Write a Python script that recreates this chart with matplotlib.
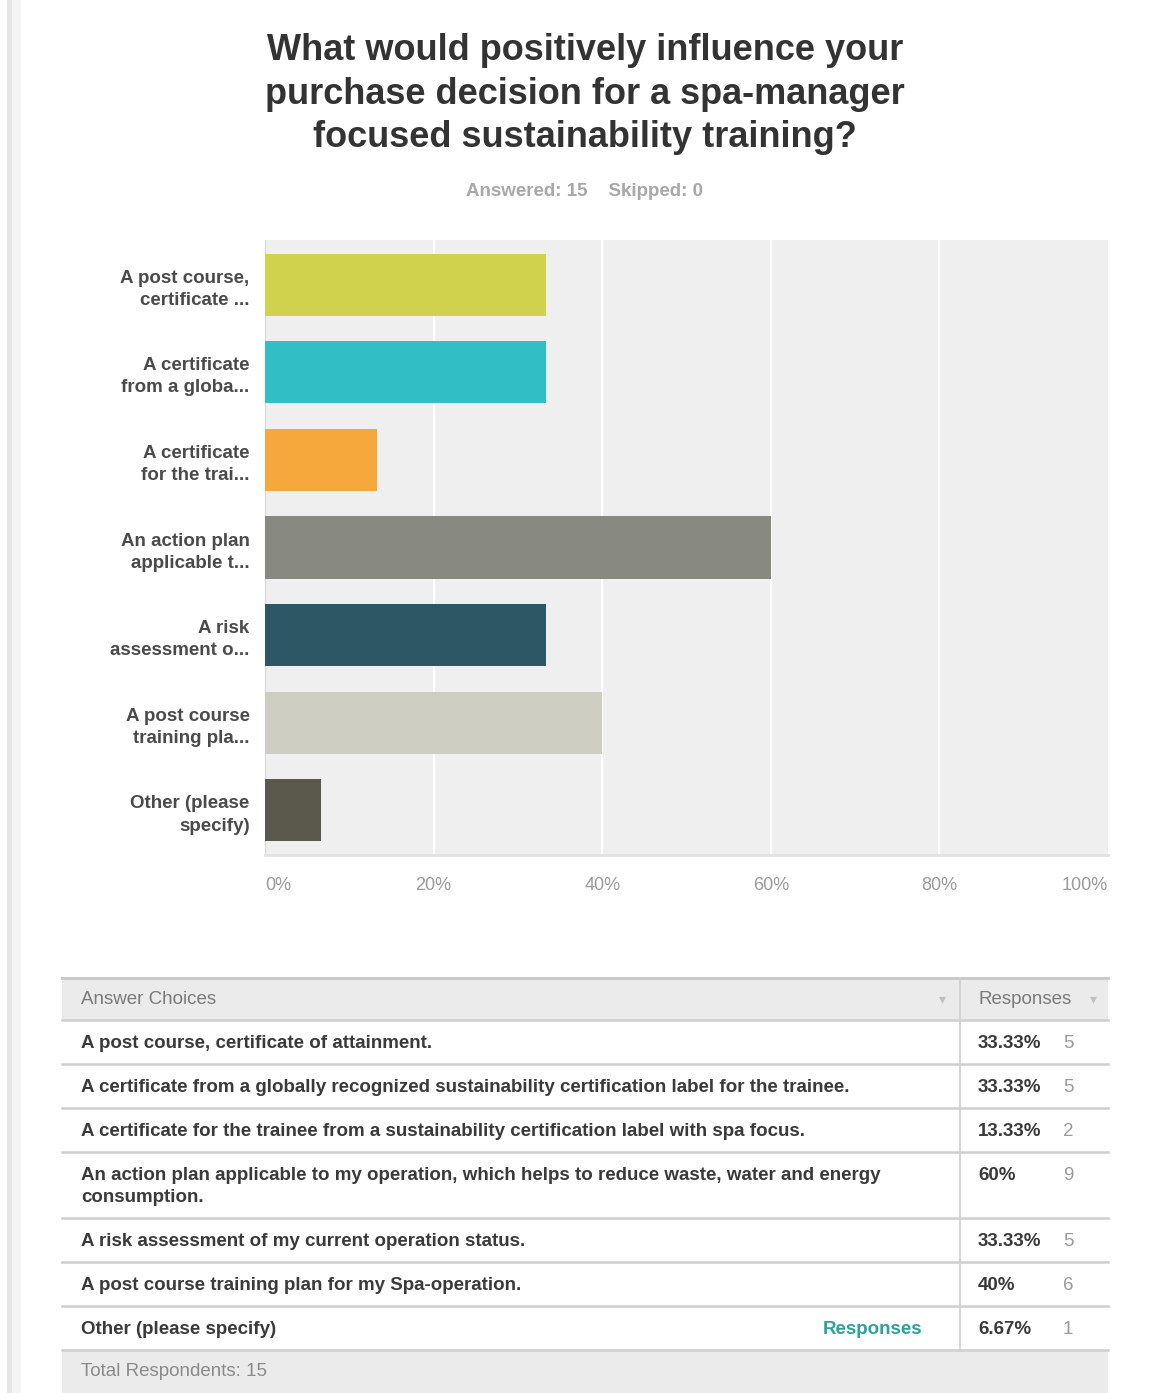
import matplotlib
matplotlib.use('Agg')
import matplotlib.pyplot as plt
from matplotlib.patches import Rectangle

W, H = 1157, 1393

# survey results
short_labels = ['A post course,\ncertificate ...', 'A certificate\nfrom a globa...',
                'A certificate\nfor the trai...', 'An action plan\napplicable t...',
                'A risk\nassessment o...', 'A post course\ntraining pla...',
                'Other (please\nspecify)']
full_labels = ['A post course, certificate of attainment.',
               'A certificate from a globally recognized sustainability certification label for the trainee.',
               'A certificate for the trainee from a sustainability certification label with spa focus.',
               'An action plan applicable to my operation, which helps to reduce waste, water and energy\nconsumption.',
               'A risk assessment of my current operation status.',
               'A post course training plan for my Spa-operation.',
               'Other (please specify)']
percents = [33.33, 33.33, 13.33, 60, 33.33, 40, 6.67]
counts = [5, 5, 2, 9, 5, 6, 1]
bar_colors = ['#d0d24e', '#31bec4', '#f6a83c', '#888980', '#2c5866', '#cecdc1', '#5a584b']
xticks = [0, 20, 40, 60, 80, 100]
answered, skipped = 15, 0

plt.rcParams['font.family'] = ['Liberation Sans', 'DejaVu Sans']

fig = plt.figure(figsize=(W / 100.0, H / 100.0), dpi=100, facecolor='white')

# full-figure pixel canvas for title, page edge and table
bg = fig.add_axes([0, 0, 1, 1])
bg.set_xlim(0, W)
bg.set_ylim(H, 0)
bg.axis('off')
bg.add_patch(Rectangle((7, 0), 5, H, color='#e6e6e6', lw=0))
bg.add_patch(Rectangle((12, 0), 9, H, color='#f4f4f4', lw=0))

bg.text(585, 94, 'What would positively influence your\npurchase decision for a spa-manager\nfocused sustainability training?',
        ha='center', va='center', fontsize=26, fontweight='bold', color='#333333', linespacing=1.33)
bg.text(585, 192, 'Answered: %d    Skipped: %d' % (answered, skipped), ha='center', va='center',
        fontsize=13.5, fontweight='bold', color='#a8a8a8')

# bar chart
L, R, T, B = 265, 1108, 240, 855
ax = fig.add_axes([L / W, 1 - B / H, (R - L) / W, (B - T) / H])
ax.set_facecolor('#efefef')
ypos = list(range(len(percents)))
ax.barh(ypos, percents, height=0.71, color=bar_colors, zorder=3)
ax.set_xlim(0, 100)
ax.set_ylim(len(percents) - 0.49, -0.51)
for v in xticks[1:-1]:
    ax.axvline(v, color='white', lw=1.6, zorder=1)
for s in ['top', 'right']:
    ax.spines[s].set_visible(False)
ax.spines['left'].set_color('#d6d6d6')
ax.spines['bottom'].set_color('#e2e2e2')
ax.spines['bottom'].set_linewidth(2)
ax.set_yticks(ypos)
ax.set_yticklabels(short_labels, fontsize=13.5, fontweight='bold', color='#4a4a4a',
                   multialignment='right', linespacing=1.4)
ax.set_xticks(xticks)
ax.set_xticklabels(['%d%%' % v for v in xticks], fontsize=13, color='#9a9a9a')
tl = ax.get_xticklabels()
tl[0].set_horizontalalignment('left')
tl[-1].set_horizontalalignment('right')
ax.tick_params(axis='both', length=0)
ax.tick_params(axis='x', pad=16)
ax.tick_params(axis='y', pad=11)

# response table
tx0, tx1, colx = 62, 1108, 960
top = 978
line_c = '#cfcfcf'
bg.add_patch(Rectangle((tx0, top), tx1 - tx0, 42, color='#ebebeb', lw=0))
bg.plot([tx0, tx1], [top, top], color='#c8c8c8', lw=2)
bg.text(81, top + 21, 'Answer Choices', va='center', fontsize=13.5, color='#7a7a7a')
bg.text(978, top + 21, 'Responses', va='center', fontsize=13.5, color='#7a7a7a')
bg.text(942, top + 21, '\u25be', va='center', ha='center', fontsize=10, color='#c0c0c0',
        family='DejaVu Sans')
bg.text(1093, top + 21, '\u25be', va='center', ha='center', fontsize=10, color='#c0c0c0',
        family='DejaVu Sans')
y = top + 42
bg.plot([tx0, tx1], [y, y], color=line_c, lw=1.8)
for i, (lab, p, n) in enumerate(zip(full_labels, percents, counts)):
    nlines = lab.count('\n') + 1
    h = 44 + 22 * (nlines - 1)
    bg.text(81, y + 15, lab, va='top', fontsize=13.5, fontweight='bold', color='#3a3a3a',
            linespacing=1.4)
    bg.text(978, y + 15, ('%.2f%%' % p).replace('.00', ''), va='top', fontsize=13.5,
            fontweight='bold', color='#3a3a3a')
    bg.text(1063, y + 15, str(n), va='top', fontsize=13.5, color='#9a9a9a')
    if i == len(full_labels) - 1:
        bg.text(922, y + 15, 'Responses', va='top', ha='right', fontsize=13.5,
                fontweight='bold', color='#2ba39d')
    y += h
    bg.plot([tx0, tx1], [y, y], color=line_c, lw=1.8)
bg.plot([colx, colx], [top, y], color=line_c, lw=1.2)
bg.add_patch(Rectangle((tx0, y + 1), tx1 - tx0, H - y, color='#ebebeb', lw=0))
bg.text(81, y + 22, 'Total Respondents: %d' % answered, va='center', fontsize=13.5,
        color='#8a8a8a')

fig.savefig('out.png', dpi=100, facecolor='white')
